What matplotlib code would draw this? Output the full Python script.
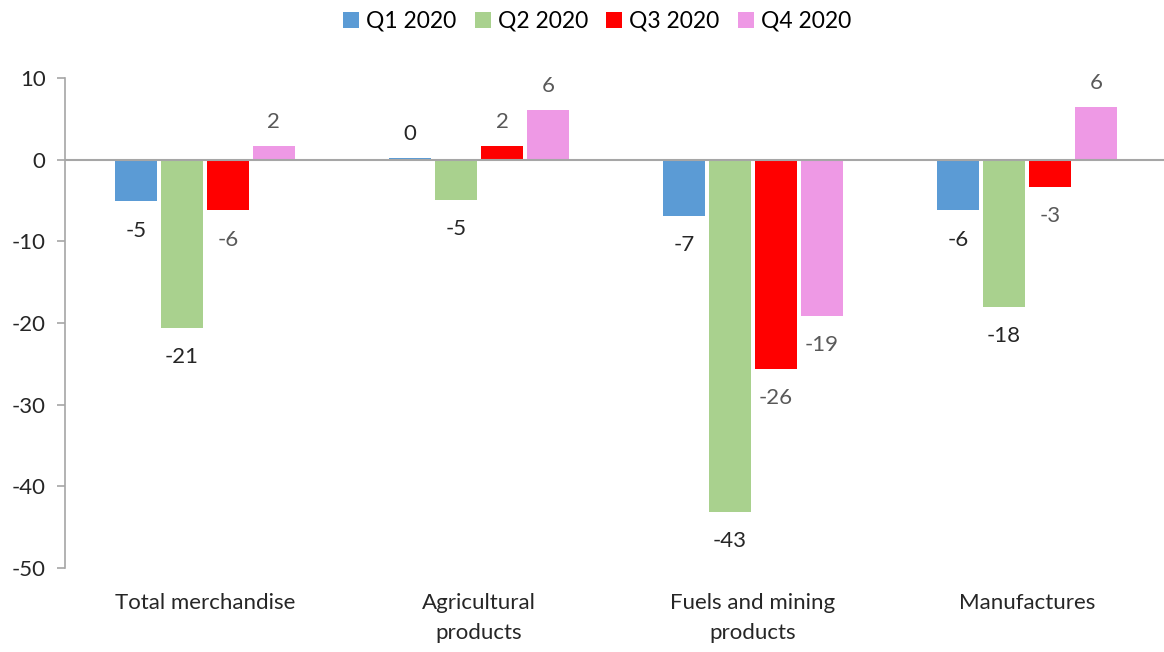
import numpy as np
import matplotlib.pyplot as plt
from matplotlib.patches import Patch

plt.rcParams['font.family'] = ['Lato', 'DejaVu Sans']
plt.rcParams['axes.unicode_minus'] = False

categories = ['Total merchandise', 'Agricultural\nproducts', 'Fuels and mining\nproducts', 'Manufactures']
series = ['Q1 2020', 'Q2 2020', 'Q3 2020', 'Q4 2020']
q1 = [-5.1, 0.2, -6.9, -6.2]
q2 = [-20.6, -4.9, -43.1, -18.0]
q3 = [-6.2, 1.7, -25.6, -3.3]
q4 = [1.7, 6.1, -19.1, 6.4]
values = [q1, q2, q3, q4]

colors = ['#5B9BD5', '#A9D18E', '#FF0000', '#EE99E5']
label_colors = ['#262626', '#262626', '#595959', '#595959']

fig = plt.figure(figsize=(11.64, 6.52), dpi=100)
ax = fig.add_axes([0.0558, 0.1288, 0.9442, 0.7516])

x = np.arange(len(categories))
width = 0.153
step = 0.1676
for i, (vals, c, lc) in enumerate(zip(values, colors, label_colors)):
    pos = x + (i - 1.5) * step
    ax.bar(pos, vals, width, color=c, zorder=2)
    for p, v in zip(pos, vals):
        if v >= 0:
            ax.annotate(f'{v:.0f}', (p, v), xytext=(0, 10), textcoords='offset points',
                        ha='center', va='bottom', fontsize=16, color=lc)
        else:
            ax.annotate(f'{v:.0f}', (p, v), xytext=(0, -14), textcoords='offset points',
                        ha='center', va='top', fontsize=16, color=lc)

ax.set_xlim(-0.511, len(categories) - 0.5)
ax.set_ylim(-50, 10)
ax.set_yticks(np.arange(-50, 11, 10))
ax.axhline(0, color='#A6A6A6', lw=1.5, zorder=3)

for s in ['top', 'right', 'bottom']:
    ax.spines[s].set_visible(False)
ax.spines['left'].set_color('#A6A6A6')
ax.spines['left'].set_linewidth(1.2)
ax.tick_params(axis='y', colors='#A6A6A6', labelcolor='#262626', labelsize=16, length=6, width=1.2, pad=8)
ax.set_xticks(x)
ax.set_xticklabels(categories, fontsize=16, color='#262626', linespacing=1.6)
ax.tick_params(axis='x', length=0, pad=18)

handles = [Patch(facecolor=c, label=s) for c, s in zip(colors, series)]
fig.legend(handles=handles, loc='upper center', bbox_to_anchor=(0.513, 1.015), ncol=4,
           frameon=False, fontsize=16.5, handlelength=0.7, handleheight=0.7,
           handletextpad=0.3, columnspacing=0.8)

fig.savefig('out.png', dpi=100)
